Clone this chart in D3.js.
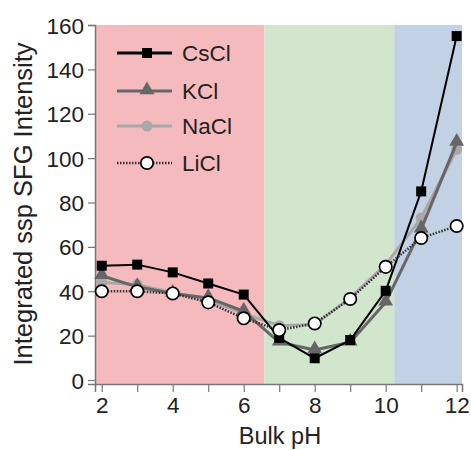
<!DOCTYPE html>
<html>
<head>
<meta charset="utf-8">
<script src="https://d3js.org/d3.v7.min.js"></script>
<style>
  body { margin: 0; background: #fff; }
  svg { font-family: "Liberation Sans", Arial, sans-serif; }
</style>
</head>
<body>
<svg id="chart" width="471" height="450"></svg>
<script>
// data
var ph = [2, 3, 4, 5, 6, 7, 8, 9, 10, 11, 12];
var cscl = [51.5, 52, 48.5, 43.5, 38.5, 19, 9.8, 18, 40.2, 85, 155];
var kcl = [47, 42, 39, 37, 31, 17, 13.5, 17, 35, 68, 107];
var nacl = [44, 43, 39.5, 36, 30, 24.5, 25, 37, 52, 73, 104];
var licl = [40, 40, 39, 35, 27.8, 22.5, 25.5, 36.5, 51, 64, 69.4];
var regions = [[1.81, 6.58, "#f5babd"], [6.58, 10.24, "#d2e6cd"], [10.24, 12.15, "#c3d1e4"]];
var xTicks = [2, 4, 6, 8, 10, 12];
var yTicks = [0, 20, 40, 60, 80, 100, 120, 140, 160];

var svg = d3.select("#chart");
var pLeft = 95, pRight = 462, pTop = 25, pBottom = 384;

var x = d3.scaleLinear().domain([1.81, 12.15]).range([pLeft, pRight]);
var y = d3.scaleLinear().domain([-1.8, 160]).range([pBottom, pTop]);

//coloured pH bands
svg.selectAll("rect.band").data(regions).enter().append("rect")
  .attr("class", "band")
  .attr("x", function(d){ return x(d[0]); })
  .attr("width", function(d){ return x(d[1]) - x(d[0]); })
  .attr("y", pTop).attr("height", pBottom - pTop)
  .attr("fill", function(d){ return d[2]; });

//axes
var xAxis = svg.append("g").attr("transform", "translate(0," + pBottom + ")")
  .call(d3.axisBottom(x).tickValues(d3.range(2, 13)).tickSize(8).tickPadding(5)
    .tickFormat(function(d){ return xTicks.indexOf(d) >= 0 ? d : ""; }));
var yAxis = svg.append("g").attr("transform", "translate(" + pLeft + ",0)")
  .call(d3.axisLeft(y).tickValues(yTicks).tickSize(7).tickPadding(4));
[xAxis, yAxis].forEach(function(a){
  a.select(".domain").attr("stroke", "#777").attr("stroke-width", 1.5);
  a.selectAll(".tick line").attr("stroke", "#777").attr("stroke-width", 1.2);
  a.selectAll("text").attr("fill", "#222").style("font-size", "22.5px");
});
yAxis.selectAll("text").attr("dy", "0.36em");

svg.append("text").attr("x", 280).attr("y", 444)
  .attr("text-anchor", "middle").attr("fill", "#222").style("font-size", "23.5px")
  .text("Bulk pH");
svg.append("text").attr("transform", "translate(32,204) rotate(-90)")
  .attr("text-anchor", "middle").attr("fill", "#222").style("font-size", "25.5px")
  .text("Integrated ssp SFG Intensity");

var series = [
  { name: "NaCl", vals: nacl, color: "#a8a8a8", width: 3, dash: null, shape: "circle" },
  { name: "KCl", vals: kcl, color: "#666666", width: 3, dash: null, shape: "triangle" },
  { name: "CsCl", vals: cscl, color: "#000000", width: 2, dash: null, shape: "square" },
  { name: "LiCl", vals: licl, color: "#333333", width: 2.5, dash: "1.5,1.5", shape: "open" }
];

var line = d3.line().x(function(d, i){ return x(ph[i]); }).y(function(d){ return y(d); });

function marker(g, s, cx, cy){
  if (s.shape == "square") {
    g.append("rect").attr("x", cx - 5).attr("y", cy - 5).attr("width", 10).attr("height", 10).attr("fill", "#000");
  } else if (s.shape == "triangle") {
    g.append("path").attr("d", d3.symbol().type(d3.symbolTriangle).size(95)())
      .attr("transform", "translate(" + cx + "," + (cy - 1) + ")").attr("fill", s.color);
  } else if (s.shape == "circle") {
    g.append("circle").attr("cx", cx).attr("cy", cy).attr("r", 5.5).attr("fill", s.color);
  } else {
    g.append("circle").attr("cx", cx).attr("cy", cy).attr("r", 6.2).attr("fill", "#fff")
      .attr("stroke", "#000").attr("stroke-width", 1.7);
  }
}

series.forEach(function(s){
  var g = svg.append("g");
  var p = g.append("path").datum(s.vals).attr("d", line).attr("fill", "none")
    .attr("stroke", s.color).attr("stroke-width", s.width).attr("stroke-linejoin", "round");
  if (s.dash) p.attr("stroke-dasharray", s.dash);
  s.vals.forEach(function(v, i){ marker(g, s, x(ph[i]), y(v)); });
});

//legend
var legendOrder = ["CsCl", "KCl", "NaCl", "LiCl"];
var legendY = [53, 91, 126, 163];
legendOrder.forEach(function(name, i){
  var s = series.filter(function(d){ return d.name == name; })[0];
  var g = svg.append("g");
  var l = g.append("line").attr("x1", 117).attr("x2", 172).attr("y1", legendY[i]).attr("y2", legendY[i])
    .attr("stroke", s.color).attr("stroke-width", s.name == "CsCl" ? 3 : s.width);
  if (s.dash) l.attr("stroke-dasharray", s.dash);
  marker(g, s, 147, legendY[i]);
  g.append("text").attr("x", 182).attr("y", legendY[i]).attr("dy", "0.36em")
    .attr("fill", "#222").style("font-size", "22.5px").text(name);
});
</script>
</body>
</html>
